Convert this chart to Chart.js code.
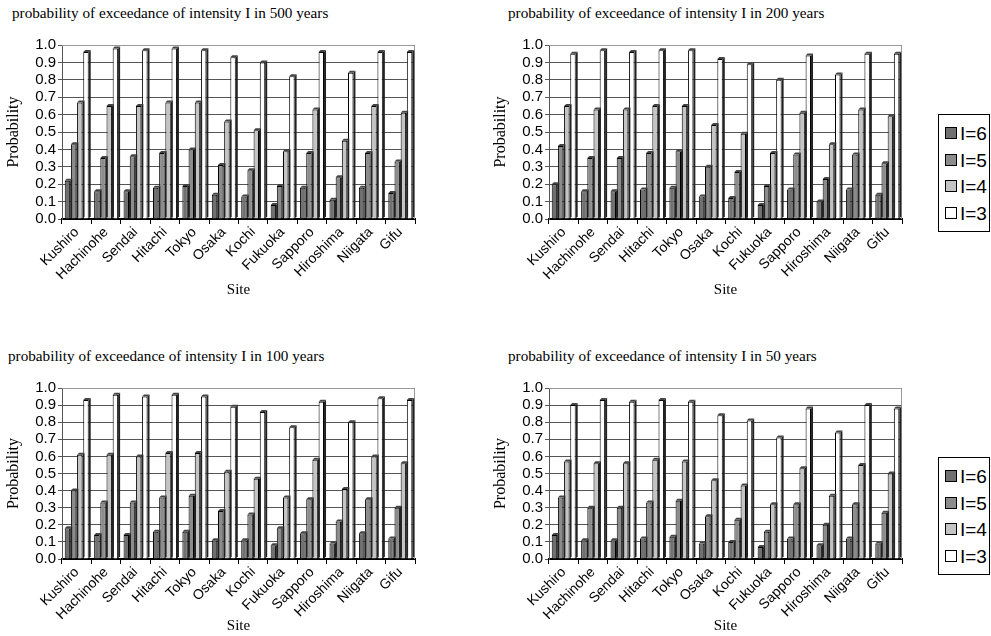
<!DOCTYPE html>
<html>
<head>
<meta charset="utf-8">
<script src="https://cdn.jsdelivr.net/npm/chart.js@4/dist/chart.umd.min.js"></script>
<style>
  body { margin: 0; background: #fff; width: 991px; height: 636px; position: relative; overflow: hidden; }
  canvas { position: absolute; }
  .ttl { position: absolute; font-family: "Liberation Serif", "Times New Roman", serif; font-size: 15.2px; color: #000; white-space: nowrap; }
  .lgd { position: absolute; left: 938px; width: 52px; border: 1px solid #000; box-sizing: border-box; background: #fff;
         font-family: "Liberation Sans", Arial, sans-serif; font-size: 19px; color: #000; padding: 6px 0 4px 6px; }
  .lgd div { height: 26.5px; line-height: 26.5px; white-space: nowrap; }
  .lgd span { display: inline-block; width: 10px; height: 10px; border: 1px solid #000; margin-right: 3px; vertical-align: 1px; }
</style>
</head>
<body>
<div class="ttl" style="left:12px; top:4px;">probability of exceedance of intensity I in 500 years</div>
<div class="ttl" style="left:508px; top:4px;">probability of exceedance of intensity I in 200 years</div>
<div class="ttl" style="left:8px; top:347px;">probability of exceedance of intensity I in 100 years</div>
<div class="ttl" style="left:508px; top:347px;">probability of exceedance of intensity I in 50 years</div>

<canvas id="c500" width="440" height="300" style="left:0px; top:0px;"></canvas>
<canvas id="c200" width="440" height="300" style="left:487px; top:0px;"></canvas>
<canvas id="c100" width="440" height="293" style="left:0px; top:343px;"></canvas>
<canvas id="c50" width="440" height="293" style="left:487px; top:343px;"></canvas>

<div class="lgd" id="lg1" style="top:114px;"></div>
<div class="lgd" id="lg2" style="top:457px;"></div>

<script>
const sites = ['Kushiro', 'Hachinohe', 'Sendai', 'Hitachi', 'Tokyo', 'Osaka', 'Kochi', 'Fukuoka', 'Sapporo', 'Hiroshima', 'Niigata', 'Gifu'];
const seriesLabels = ['I=6', 'I=5', 'I=4', 'I=3'];
const seriesColors = ['#707070', '#8c8c8c', '#c4c4c4', '#ffffff'];

// 500 years
const p500_i6 = [0.22, 0.16, 0.16, 0.18, 0.19, 0.14, 0.13, 0.08, 0.18, 0.11, 0.18, 0.15];
const p500_i5 = [0.43, 0.35, 0.36, 0.38, 0.40, 0.31, 0.28, 0.19, 0.38, 0.24, 0.38, 0.33];
const p500_i4 = [0.67, 0.65, 0.65, 0.67, 0.67, 0.56, 0.51, 0.39, 0.63, 0.45, 0.65, 0.61];
const p500_i3 = [0.96, 0.98, 0.97, 0.98, 0.97, 0.93, 0.90, 0.82, 0.96, 0.84, 0.96, 0.96];

// 200 years
const p200_i6 = [0.20, 0.16, 0.16, 0.17, 0.18, 0.13, 0.12, 0.08, 0.17, 0.10, 0.17, 0.14];
const p200_i5 = [0.42, 0.35, 0.35, 0.38, 0.39, 0.30, 0.27, 0.19, 0.37, 0.23, 0.37, 0.32];
const p200_i4 = [0.65, 0.63, 0.63, 0.65, 0.65, 0.54, 0.49, 0.38, 0.61, 0.43, 0.63, 0.59];
const p200_i3 = [0.95, 0.97, 0.96, 0.97, 0.97, 0.92, 0.89, 0.80, 0.94, 0.83, 0.95, 0.95];

// 100 years
const p100_i6 = [0.18, 0.14, 0.14, 0.16, 0.16, 0.11, 0.11, 0.08, 0.15, 0.09, 0.15, 0.12];
const p100_i5 = [0.40, 0.33, 0.33, 0.36, 0.37, 0.28, 0.26, 0.18, 0.35, 0.22, 0.35, 0.30];
const p100_i4 = [0.61, 0.61, 0.60, 0.62, 0.62, 0.51, 0.47, 0.36, 0.58, 0.41, 0.60, 0.56];
const p100_i3 = [0.93, 0.96, 0.95, 0.96, 0.95, 0.89, 0.86, 0.77, 0.92, 0.80, 0.94, 0.93];

// 50 years
const p50_i6 = [0.14, 0.11, 0.11, 0.12, 0.13, 0.09, 0.10, 0.07, 0.12, 0.08, 0.12, 0.09];
const p50_i5 = [0.36, 0.30, 0.30, 0.33, 0.34, 0.25, 0.23, 0.16, 0.32, 0.20, 0.32, 0.27];
const p50_i4 = [0.57, 0.56, 0.56, 0.58, 0.57, 0.46, 0.43, 0.32, 0.53, 0.37, 0.55, 0.50];
const p50_i3 = [0.90, 0.93, 0.92, 0.93, 0.92, 0.84, 0.81, 0.71, 0.88, 0.74, 0.90, 0.88];

const sans = '"Liberation Sans", Arial, sans-serif';
const serif = '"Liberation Serif", "Times New Roman", serif';

// grey frame round the plot (top and right wall edges)
const frame = {
  id: 'frame',
  beforeDatasetsDraw(chart) {
    const a = chart.chartArea, ctx = chart.ctx;
    ctx.save();
    ctx.strokeStyle = '#999';
    ctx.lineWidth = 1;
    ctx.beginPath();
    ctx.moveTo(a.left, a.top + 0.5);
    ctx.lineTo(a.right - 0.5, a.top + 0.5);
    ctx.lineTo(a.right - 0.5, a.bottom);
    ctx.stroke();
    ctx.restore();
  }
};

// fake 3d: dark side and top cap on each bar
const bar3d = {
  id: 'bar3d',
  afterDatasetDraw(chart, args) {
    const ctx = chart.ctx;
    const d = 2;
    args.meta.data.forEach(bar => {
      const p = bar.getProps(['x', 'y', 'base', 'width'], true);
      const l = p.x - p.width / 2, r = p.x + p.width / 2;
      ctx.save();
      ctx.fillStyle = '#222';
      ctx.beginPath();
      ctx.moveTo(r, p.y); ctx.lineTo(r + d, p.y - d); ctx.lineTo(r + d, p.base - d); ctx.lineTo(r, p.base);
      ctx.closePath(); ctx.fill();
      ctx.fillStyle = '#444';
      ctx.beginPath();
      ctx.moveTo(l, p.y); ctx.lineTo(l + d, p.y - d); ctx.lineTo(r + d, p.y - d); ctx.lineTo(r, p.y);
      ctx.closePath(); ctx.fill();
      ctx.restore();
    });
  }
};

function makeChart(id, rows, xh) {
  return new Chart(document.getElementById(id), {
    type: 'bar',
    data: {
      labels: sites,
      datasets: rows.map((vals, i) => ({
        label: seriesLabels[i],
        data: vals,
        backgroundColor: seriesColors[i],
        borderColor: '#000',
        borderWidth: 1,
        barPercentage: 0.88,
        categoryPercentage: 0.84
      }))
    },
    options: {
      responsive: false,
      animation: false,
      layout: { padding: { top: 45, right: 25, left: 0, bottom: 0 } },
      plugins: { legend: { display: false }, tooltip: { enabled: false } },
      scales: {
        x: {
          grid: { display: true, drawOnChartArea: false, tickLength: 5, color: '#000', offset: true },
          border: { color: '#000', width: 2 },
          ticks: { maxRotation: 45, minRotation: 45, autoSkip: false, color: '#000', padding: 0, font: { family: sans, size: 14 } },
          title: { display: true, text: 'Site', color: '#000', padding: { top: 0, bottom: 1 }, font: { family: serif, size: 15 } },
          afterFit: s => { s.height = xh; }
        },
        y: {
          min: 0,
          max: 1,
          ticks: { stepSize: 0.1, autoSkip: false, callback: v => v.toFixed(1), color: '#000', padding: 2, font: { family: sans, size: 15 } },
          grid: { color: '#555', tickLength: 4 },
          border: { color: '#555' },
          title: { display: true, text: 'Probability', color: '#000', font: { family: serif, size: 16 } },
          afterFit: s => { s.width = 62; }
        }
      }
    },
    plugins: [frame, bar3d]
  });
}

makeChart('c500', [p500_i6, p500_i5, p500_i4, p500_i3], 81);
makeChart('c200', [p200_i6, p200_i5, p200_i4, p200_i3], 81);
makeChart('c100', [p100_i6, p100_i5, p100_i4, p100_i3], 77);
makeChart('c50', [p50_i6, p50_i5, p50_i4, p50_i3], 77);

// legends
['lg1', 'lg2'].forEach(id => {
  const box = document.getElementById(id);
  seriesLabels.forEach((lab, i) => {
    const row = document.createElement('div');
    const sw = document.createElement('span');
    sw.style.background = seriesColors[i];
    row.appendChild(sw);
    row.appendChild(document.createTextNode(lab));
    box.appendChild(row);
  });
});
</script>
</body>
</html>
